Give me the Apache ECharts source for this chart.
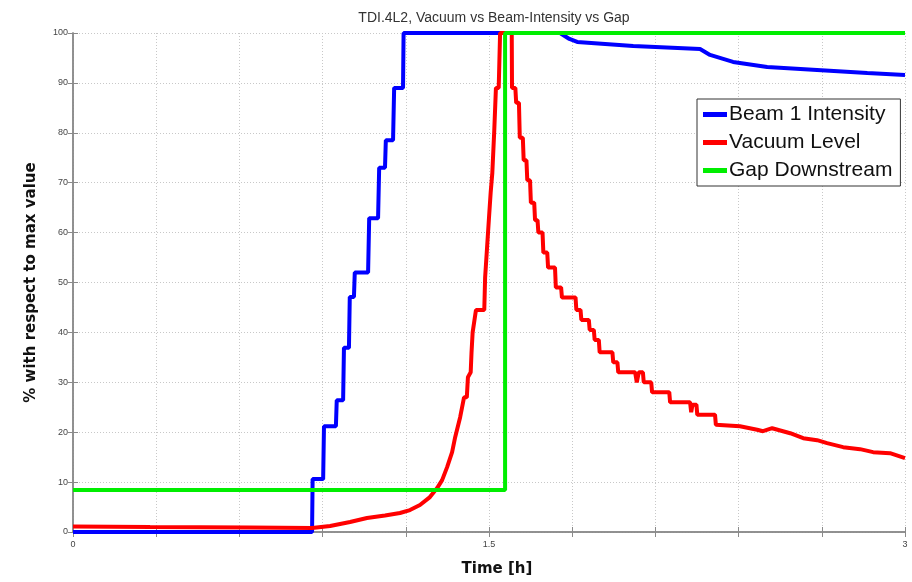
<!DOCTYPE html>
<html>
<head>
<meta charset="utf-8">
<script src="https://cdn.jsdelivr.net/npm/echarts@6/dist/echarts.min.js"></script>
<style>html,body{margin:0;padding:0;background:#fff}#c{width:912px;height:582px}</style>
</head>
<body>
<div id="c"></div>
<script>
const chartTitle = 'TDI.4L2, Vacuum vs Beam-Intensity vs Gap';
const seriesNames = ['Beam 1 Intensity', 'Vacuum Level', 'Gap Downstream'];
const xTickLabels = ['0', '1.5', '3'];

// Beam 1 Intensity [time h, %]
const beamIntensity = [
  [0,0],[0.862,0],[0.864,10.6],[0.902,10.6],[0.905,21.2],[0.948,21.2],[0.951,26.4],[0.974,26.4],[0.977,36.9],
  [0.995,36.9],[0.998,47.1],[1.013,47.1],[1.016,52],[1.064,52],[1.068,62.9],[1.100,62.9],[1.104,73],
  [1.125,73],[1.128,78.5],[1.154,78.5],[1.158,89],[1.190,89],[1.192,100],[1.756,100],[1.790,98.8],
  [1.818,98.2],[2.02,97.4],[2.261,96.8],[2.297,95.6],[2.38,94.2],[2.503,93.2],[2.683,92.6],[2.864,92],[3.0,91.6]
];
// Vacuum Level [time h, %]
const vacuumLevel = [
  [0,1.1],[0.278,1.0],[0.638,0.9],[0.862,0.8],[0.927,1.2],[0.999,2.0],[1.060,2.8],[1.125,3.3],[1.179,3.8],
  [1.215,4.4],[1.251,5.4],[1.287,7],[1.313,8.8],[1.331,10.4],[1.349,13],[1.367,16],[1.378,19],[1.396,23],
  [1.410,27],[1.420,27],[1.424,31],[1.434,32],[1.437,36],[1.441,40],[1.448,40],[1.453,44.5],[1.483,44.5],
  [1.486,51],[1.490,51],[1.493,57],[1.497,57],[1.500,63],[1.503,63],[1.506,68],[1.510,68],[1.512,72],
  [1.516,72],[1.519,80.5],[1.522,80.5],[1.525,89],[1.535,89],[1.540,100],[1.582,100],[1.583,89],
  [1.595,89],[1.598,86],[1.608,86],[1.611,79],[1.622,79],[1.625,74.5],[1.635,74.5],[1.638,70.5],
  [1.648,70.5],[1.651,66],[1.663,66],[1.666,62.5],[1.675,62.5],[1.678,60],[1.693,60],[1.696,56],
  [1.710,56],[1.713,53],[1.738,53],[1.741,49],[1.760,49],[1.763,47],[1.812,47],[1.815,44.5],[1.830,44.5],
  [1.833,42.5],[1.860,42.5],[1.863,40.5],[1.878,40.5],[1.881,38.5],[1.896,38.5],[1.899,36],[1.945,36],
  [1.948,34],[1.963,34],[1.966,32],[2.027,32],[2.033,30],[2.040,32],[2.055,32],[2.058,30],[2.085,30],
  [2.088,28],[2.150,28],[2.153,26],[2.225,26],[2.229,24],[2.234,25.5],[2.248,25.5],[2.251,23.5],[2.315,23.5],
  [2.318,21.5],[2.405,21.2],[2.467,20.5],[2.488,20.2],[2.521,20.8],[2.586,19.8],[2.633,18.8],[2.683,18.4],
  [2.719,17.8],[2.777,17],[2.838,16.6],[2.885,16],[2.946,15.8],[3.0,14.8]
];
// Gap Downstream [time h, %]
const gapDownstream = [[0,8.4],[1.558,8.4],[1.558,100],[3,100]];

const chart = echarts.init(document.getElementById('c'));
const axisCol = '#8a8a8a';
const fontMain = '"Liberation Sans", Arial, sans-serif';
const fontBold = '"DejaVu Sans", Verdana, sans-serif';
const gridLine = {show: true, lineStyle: {type: [1, 2], color: '#c8c8c8', width: 1}};

function xLabel(v) {
  for (const t of xTickLabels) { if (Math.abs(v - parseFloat(t)) < 1e-6) return t; }
  return '';
}

chart.setOption({
  animation: false,
  backgroundColor: '#fff',
  title: {
    text: chartTitle, left: 489, top: 6, textAlign: 'center',
    textStyle: {fontFamily: fontMain, fontSize: 14, fontWeight: 'normal', color: '#333'}
  },
  grid: {left: 73, right: 7, top: 33, bottom: 50, containLabel: false},
  legend: {
    orient: 'vertical', left: 697, top: 99, padding: [5, 8, 5, 6], itemGap: 7,
    backgroundColor: '#fff', borderColor: '#333', borderWidth: 1,
    itemWidth: 24, itemHeight: 5, icon: 'rect',
    textStyle: {fontFamily: fontMain, fontSize: 21, color: '#111', padding: [0, 0, 0, -3]},
    data: seriesNames
  },
  xAxis: [{
    type: 'value', min: 0, max: 3, interval: 0.3,
    name: 'Time [h]', nameLocation: 'middle', nameGap: 30,
    nameTextStyle: {fontFamily: fontBold, fontSize: 15, fontWeight: 'bold', color: '#111', padding: [0, 0, 0, 16]},
    axisLine: {lineStyle: {color: axisCol, width: 1.5}},
    axisTick: {inside: true, length: 5, lineStyle: {color: axisCol}},
    axisLabel: {formatter: xLabel, fontFamily: fontMain, fontSize: 9, color: '#444', margin: 8, showMinLabel: true, showMaxLabel: true},
    splitLine: gridLine
  }, {
    type: 'value', min: 0, max: 3, interval: 0.3, position: 'top',
    axisLine: {show: true, lineStyle: {color: axisCol, width: 1.5}},
    axisTick: {show: true, inside: true, length: 5, lineStyle: {color: axisCol}},
    axisLabel: {show: false}, splitLine: {show: false}
  }],
  yAxis: [{
    type: 'value', min: 0, max: 100, interval: 10,
    name: '% with respect to max value', nameLocation: 'middle', nameGap: 34,
    nameTextStyle: {fontFamily: fontBold, fontSize: 15, fontWeight: 'bold', color: '#111'},
    axisLine: {show: true, lineStyle: {color: axisCol, width: 1.5}},
    axisTick: {show: true, inside: true, length: 5, lineStyle: {color: axisCol}},
    axisLabel: {fontFamily: fontMain, fontSize: 9, color: '#444', margin: 5},
    splitLine: gridLine
  }, {
    type: 'value', min: 0, max: 100, interval: 10, position: 'right',
    axisLine: {show: true, lineStyle: {color: axisCol, width: 1.5}},
    axisTick: {show: true, inside: true, length: 5, lineStyle: {color: axisCol}},
    axisLabel: {show: false}, splitLine: {show: false}
  }],
  series: [
    {name: seriesNames[0], type: 'line', data: beamIntensity, showSymbol: false, z: 2,
     lineStyle: {color: '#0000ff', width: 4}, itemStyle: {color: '#0000ff'}},
    {name: seriesNames[1], type: 'line', data: vacuumLevel, showSymbol: false, z: 3,
     lineStyle: {color: '#ff0000', width: 4}, itemStyle: {color: '#ff0000'}},
    {name: seriesNames[2], type: 'line', data: gapDownstream, showSymbol: false, z: 4,
     lineStyle: {color: '#00ee00', width: 4}, itemStyle: {color: '#00ee00'}}
  ]
});
</script>
</body>
</html>
